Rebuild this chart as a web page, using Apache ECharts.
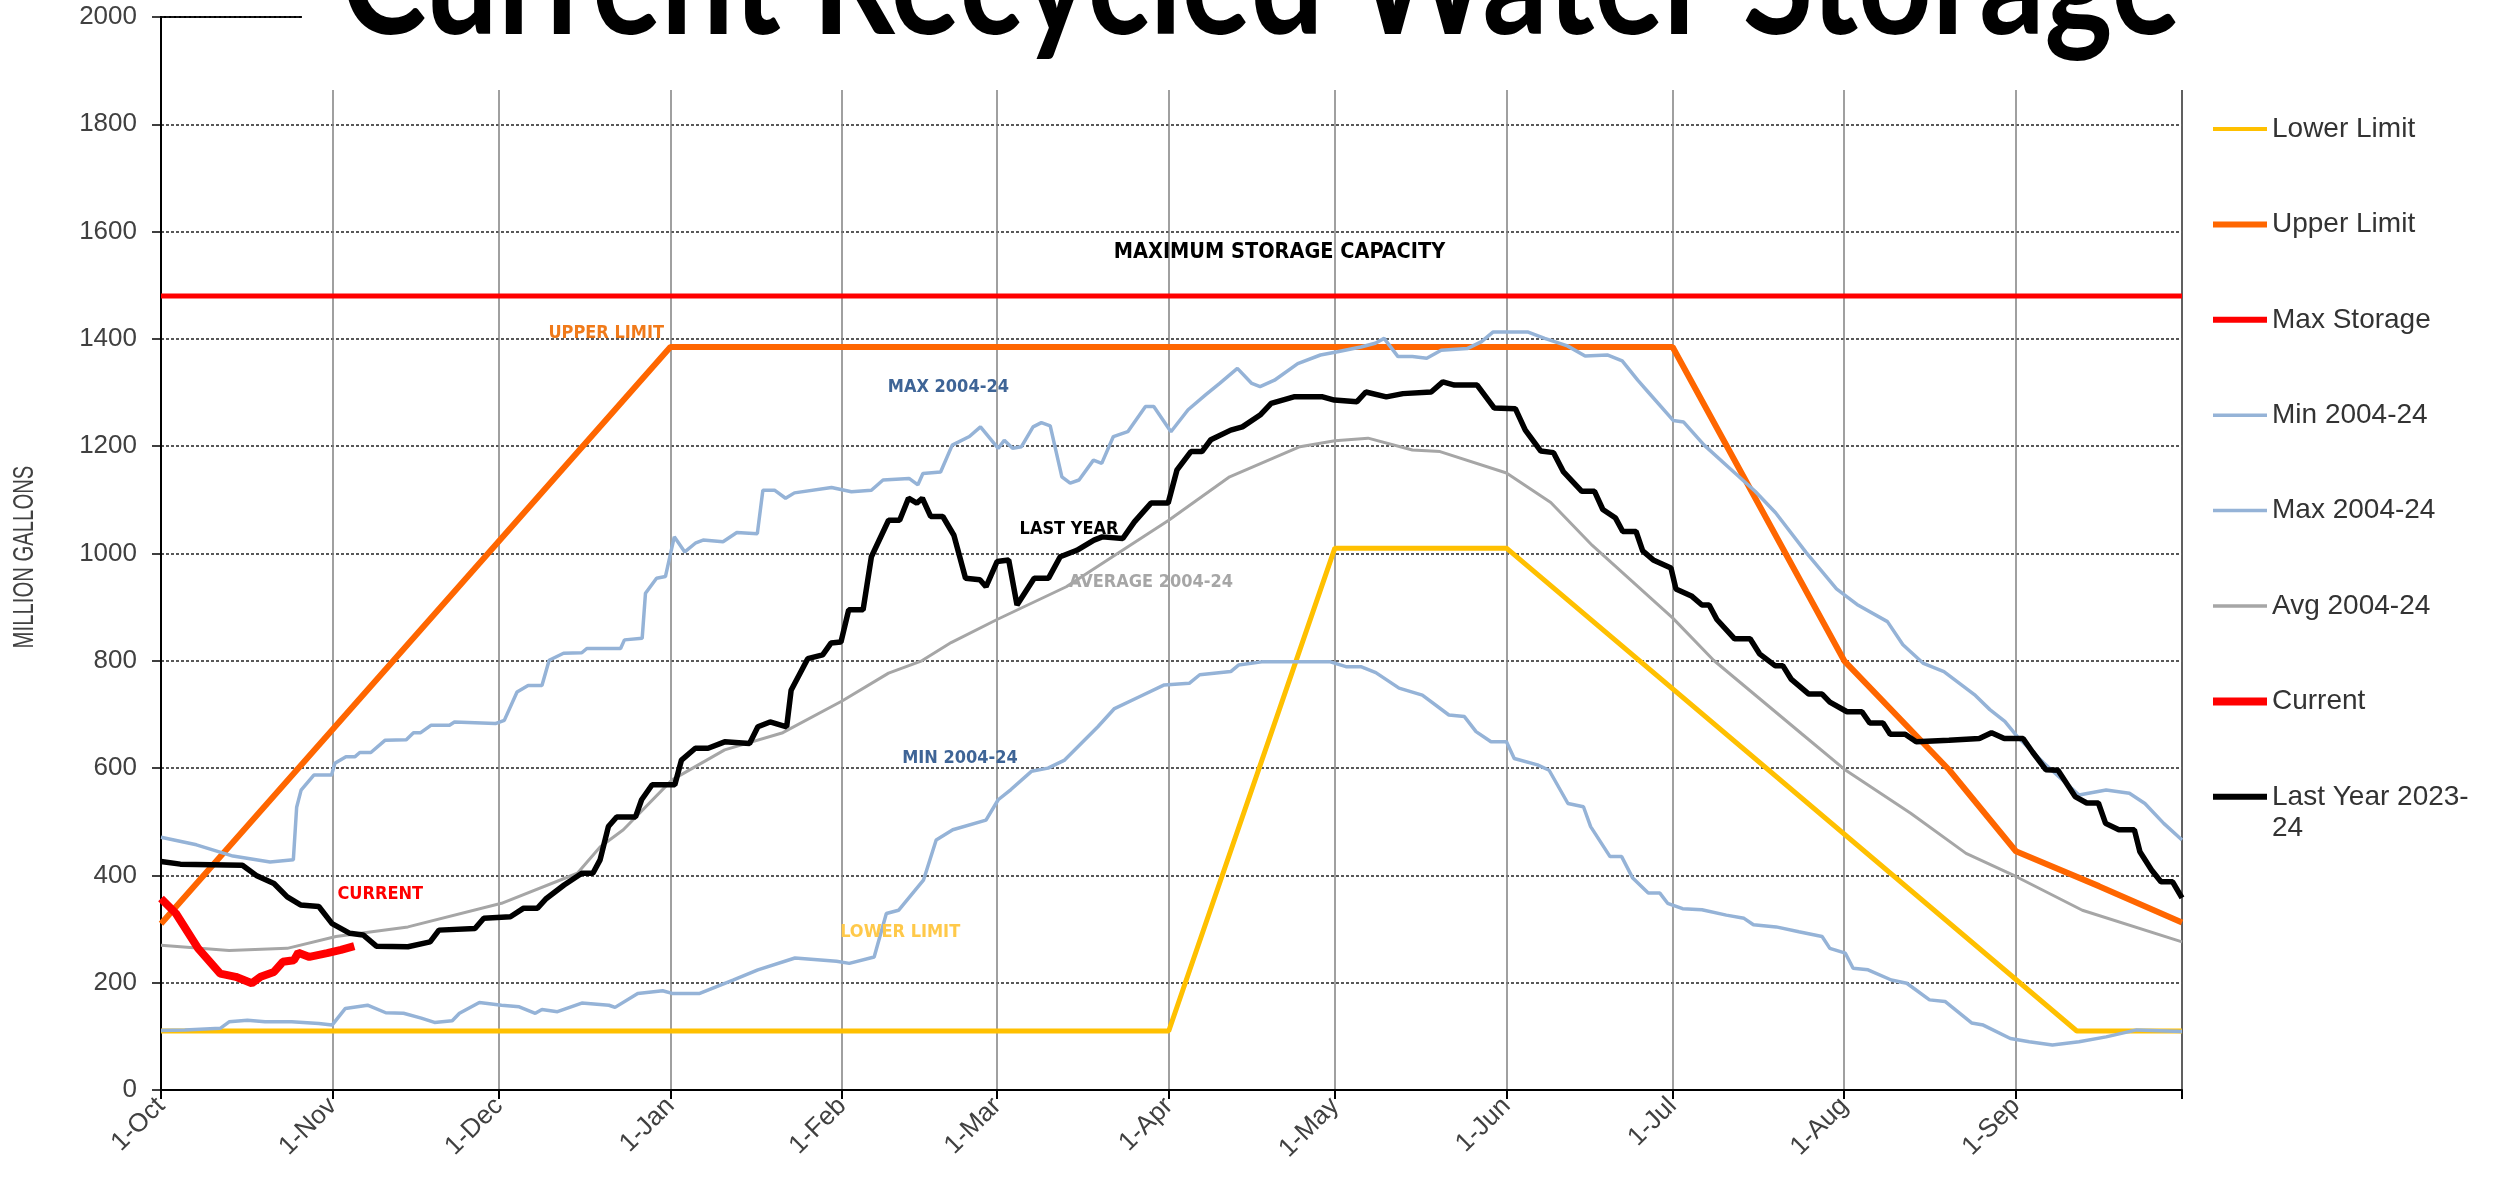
<!DOCTYPE html>
<html lang="en">
<head>
<meta charset="UTF-8">
<title>Current Recycled Water Storage</title>
<style>
    html, body { margin: 0; padding: 0; background: #fff; }
    #main { width: 2496px; height: 1178px; }
</style>
<script src="https://cdn.jsdelivr.net/npm/echarts@6.0.0/dist/echarts.min.js"></script>
</head>
<body>
<div id="main"></div>
<script type="text/javascript">
    // x = days since 1-Oct
    var monthDays = [0, 31, 61, 92, 123, 151, 182, 212, 243, 273, 304, 335];
    var monthLabels = ['1-Oct', '1-Nov', '1-Dec', '1-Jan', '1-Feb', '1-Mar', '1-Apr', '1-May', '1-Jun', '1-Jul', '1-Aug', '1-Sep'];
    var yearEnd = 365;

    var lowerLimit = [[0, 110], [182, 110], [212, 1010], [243, 1010], [346, 110], [365, 110]];
    var upperLimit = [[0, 310], [92, 1385], [273, 1385], [304, 800], [323, 596], [335, 445], [350, 380], [365, 312]];
    var maxStorage = [[0, 1480], [365, 1480]];

    var min0424 = [[0, 111], [4.3, 112], [10.7, 115], [12.3, 127], [15.6, 130], [18.8, 127], [23.6, 127], [28.5, 124], [30.9, 121],
        [33.3, 152], [37.3, 158], [40.6, 144], [43.8, 143], [47, 134], [49.4, 126], [52.6, 129], [53.9, 143], [57.5, 163],
        [61.5, 158], [64.7, 155], [67.6, 143], [68.8, 150], [71.6, 146], [76, 162], [80.9, 158], [82, 154], [86.1, 180],
        [90.6, 185], [92.3, 180], [97.3, 180], [103.3, 205], [107.8, 224], [114.5, 246], [122, 240], [124.3, 236], [128.8, 248],
        [131, 329], [133.2, 335], [137.7, 391], [140, 466], [143, 485], [149, 503], [151.2, 541], [153.5, 560], [157.2, 594],
        [160.2, 600], [163.2, 615], [169.2, 677], [172.2, 711], [176.7, 733], [181.2, 755], [185.7, 758], [187.6, 774],
        [193.2, 780], [194.6, 792], [198.8, 798], [211.2, 798], [214, 789], [216.7, 789], [219.4, 778], [223.6, 749],
        [227.8, 736], [232.6, 699], [235.4, 696], [237.5, 668], [240.2, 649], [243, 649], [244.4, 618], [248.6, 606],
        [250.7, 596], [254.1, 534], [256.9, 528], [258.2, 491], [261.7, 435], [263.8, 435], [265.8, 395], [268.6, 367],
        [270.7, 367], [272.1, 348], [274.8, 338], [278.3, 336], [282.7, 326], [285.9, 320], [287.6, 308], [291.7, 304],
        [295.8, 295], [300, 286], [301.4, 264], [304.2, 255], [305.6, 227], [308.3, 224], [312.5, 205], [315.3, 199],
        [319.4, 168], [322.2, 165], [327, 125], [329.1, 121], [334, 96], [337.4, 90], [341.6, 84], [346.4, 90],
        [351.3, 99], [356.8, 112], [365, 109]];

    var max0424 = [[0, 471], [6.4, 457], [13, 436], [19.7, 425], [23.9, 429], [24.5, 527], [25.3, 559], [27.6, 587], [30.8, 587],
        [31.4, 609], [33.4, 621], [35, 621], [35.9, 629], [37.9, 629], [40.5, 652], [44.3, 653], [45.6, 666], [46.9, 666],
        [48.8, 680], [52.1, 680], [53, 686], [60.4, 683], [62, 689], [64.3, 742], [66.3, 754], [68.8, 754], [70.1, 801],
        [72.7, 814], [76, 815], [76.9, 823], [83, 823], [83.7, 839], [86.9, 842], [87.5, 926], [89.5, 954], [91.1, 957],
        [92.7, 1031], [94.6, 1003], [96.6, 1020], [97.9, 1025], [101.5, 1022], [104, 1039], [107.7, 1037], [108.7, 1118],
        [110.8, 1118], [112.8, 1103], [114.4, 1113], [121.1, 1123], [124.7, 1115], [128.3, 1118], [130.4, 1137],
        [135.1, 1140], [136.7, 1128], [137.6, 1149], [140.8, 1152], [142.9, 1202], [146, 1218], [148, 1236], [151.2, 1196],
        [152.3, 1211], [153.8, 1196], [155.4, 1199], [157.5, 1236], [159, 1244], [160.6, 1238], [162.7, 1143], [164.2, 1131],
        [165.8, 1137], [168.4, 1174], [169.9, 1168], [172, 1218], [174.6, 1227], [177.8, 1274], [179.3, 1274], [182.4, 1227],
        [185.5, 1268], [188.7, 1296], [191.2, 1317], [194.4, 1345], [197, 1317], [198.5, 1311], [201.1, 1323], [205.3, 1354],
        [209.4, 1370], [212.5, 1376], [216.7, 1385], [219.3, 1392], [220.9, 1401], [223.4, 1367], [226, 1367], [228.6, 1364],
        [231.2, 1379], [235.9, 1382], [238.5, 1395], [240.6, 1413], [246.8, 1413], [249.9, 1401], [254, 1387], [257.2, 1368],
        [261.2, 1370], [263.9, 1359], [266.7, 1323], [268.5, 1302], [273.1, 1248], [275, 1245], [278.7, 1202], [283.3, 1159],
        [287.9, 1116], [291.6, 1076], [297.1, 1002], [302.6, 934], [306.3, 905], [311.8, 873], [314.6, 830], [318.3, 795],
        [322, 780], [327.5, 737], [330.3, 709], [333, 687], [335.3, 658], [340, 610], [346.4, 550], [351.3, 559],
        [355.5, 553], [358.3, 534], [361.7, 497], [365, 466]];

    var avg0424 = [[0, 270], [12.3, 260], [22.8, 264], [31.6, 286], [44.6, 304], [61.5, 348], [75.2, 404], [79.3, 453],
        [83.5, 485], [92.3, 578], [101.8, 634], [112.3, 666], [123, 725], [131.4, 777], [137.4, 800], [142.7, 834],
        [151, 877], [163.5, 938], [182, 1062], [193, 1143], [205.7, 1199], [212, 1210], [218, 1215], [226, 1193],
        [231, 1190], [243, 1150], [251, 1095], [258.5, 1015], [273, 880], [280.4, 801], [296.2, 665], [304, 598],
        [316, 516], [326, 441], [335, 398], [347, 335], [365, 276]];

    var current = [[0, 357], [2.7, 329], [6.7, 264], [10.7, 217], [13.5, 211], [16.4, 199], [18, 211], [20.4, 220],
        [22, 239], [24, 242], [24.8, 256], [26.8, 248], [30, 255], [32.5, 261], [34.9, 268]];

    var lastYear = [[0, 426], [3.5, 421], [14.7, 419], [17.2, 400], [20.4, 385], [22.8, 360], [25.2, 345], [28.5, 342],
        [30.9, 310], [34.1, 292], [36.5, 289], [38.9, 268], [44.6, 267], [48.6, 276], [50.2, 298], [56.7, 301], [58.3, 320],
        [63.1, 323], [65.5, 339], [68, 339], [69.6, 357], [72.8, 382], [76, 404], [78, 404], [79.3, 429], [80.8, 491],
        [82.3, 509], [85.7, 509], [86.8, 541], [88.7, 569], [92.8, 569], [94, 615], [96.5, 637], [98.8, 637], [101.8, 649],
        [106.3, 646], [107.8, 677], [110, 686], [113, 677], [113.8, 745], [116.8, 804], [119.5, 811], [121, 833],
        [122.8, 835], [124.2, 895], [126.8, 895], [128.3, 994], [131.4, 1062], [133.4, 1062], [135, 1103], [136.5, 1094],
        [137.5, 1103], [139, 1069], [141.2, 1069], [143.2, 1034], [145.3, 954], [147.9, 951], [149, 938], [151, 985],
        [153.1, 988], [154.6, 904], [157.7, 954], [160.3, 954], [162.4, 994], [165.4, 1006], [168.5, 1025], [170, 1031],
        [173.7, 1028], [175.8, 1059], [178.8, 1094], [181.9, 1094], [183.5, 1156], [186, 1190], [188, 1190], [189.6, 1212],
        [193.2, 1230], [195.3, 1236], [198.5, 1258], [200.5, 1280], [204.6, 1292], [209.8, 1292], [211.9, 1286], [216, 1283],
        [217.6, 1301], [221.3, 1292], [224.3, 1298], [229.4, 1301], [231.5, 1320], [233.6, 1314], [237.7, 1314],
        [240.8, 1271], [244.6, 1270], [246.4, 1230], [249.2, 1191], [251.5, 1188], [253.3, 1152], [256.6, 1116],
        [258.9, 1116], [260.4, 1082], [262.7, 1066], [264, 1041], [266.4, 1041], [267.6, 1005], [269.5, 988], [272.7, 973],
        [273.6, 934], [276.4, 921], [278.3, 904], [279.6, 904], [281, 877], [284.2, 841], [287, 841], [288.7, 813],
        [291.5, 791], [292.9, 791], [294.4, 766], [297.6, 738], [300, 738], [301.4, 723], [304.5, 705], [307.2, 705],
        [308.6, 684], [311, 684], [312.3, 663], [315, 663], [317, 649], [322.9, 652], [328.4, 655], [330.6, 666],
        [332.9, 655], [336.3, 655], [338, 630], [340.4, 597], [342.6, 596], [345.7, 547], [347.8, 535], [349.9, 535],
        [351.2, 497], [353.6, 485], [356.4, 485], [357.4, 444], [359.5, 410], [361.2, 388], [363.3, 388], [365, 358]];

    var titleText = 'Current Recycled Water Storage';
    var tickFont = "'Liberation Sans', Arial, sans-serif";
    var noteFont = "'Liberation Sans Narrow', 'DejaVu Sans Condensed', sans-serif";

    // fit title font to the width it has in the slide
    var ctx = document.createElement('canvas').getContext('2d');
    ctx.font = 'bold 100px Lato';
    var titleSize = 100 * 1840 / ctx.measureText(titleText).width;
    var titleStretch = 1.18;

    function line(name, data, color, width) {
        return {
            name: name, type: 'line', data: data,
            symbol: 'none', showSymbol: false, silent: true,
            lineStyle: { color: color, width: width },
            itemStyle: { color: color }
        };
    }

    // legend swatch: a plain bar of the series' line thickness
    function swatch(name, thick) {
        return { name: name, icon: 'path://M0,0H54V' + thick + 'H0Z' };
    }

    function note(text, at, color, size) {
        return {
            coord: at,
            label: { show: true, formatter: text, color: color, fontSize: size || 18,
                fontWeight: 'bold', fontFamily: noteFont }
        };
    }

    var storage = line('Max Storage', maxStorage, '#ff0000', 5);
    storage.markPoint = {
        symbol: 'circle', symbolSize: 0, silent: true,
        data: [
            note('MAXIMUM STORAGE CAPACITY', [202, 1562], '#000', 21.5),
            note('UPPER LIMIT', [80.4, 1411], '#f07a1a'),
            note('MAX 2004-24', [142.2, 1309], '#3e6496'),
            note('LAST YEAR', [164, 1045], '#000'),
            note('AVERAGE 2004-24', [178.8, 946], '#a6a6a6'),
            note('MIN 2004-24', [144.3, 619], '#3e6496'),
            note('CURRENT', [39.6, 365], '#ff0000'),
            note('LOWER LIMIT', [133.5, 293], '#ffc94a')
        ]
    };

    var myChart = echarts.init(document.getElementById('main'));
    var option = {
        animation: false,
        backgroundColor: '#fff',
        grid: { left: 161, right: 314, top: 17, bottom: 88, show: true, borderColor: '#000', borderWidth: 2 },
        legend: {
            orient: 'vertical', left: 2208, top: 110,
            itemWidth: 54, itemHeight: 28, itemGap: 67.4,
            selectedMode: false,
            textStyle: { fontSize: 28, color: '#333', fontFamily: tickFont },
            data: [
                swatch('Lower Limit', 4), swatch('Upper Limit', 6), swatch('Max Storage', 6),
                swatch('Min 2004-24', 3.5), swatch('Max 2004-24', 3.5), swatch('Avg 2004-24', 3.5),
                swatch('Current', 8), swatch('Last Year 2023-24', 6)
            ],
            formatter: function (name) {
                return name === 'Last Year 2023-24' ? 'Last Year 2023-' : name;
            }
        },
        xAxis: {
            type: 'value', min: 0, max: yearEnd,
            axisLine: { show: true, lineStyle: { color: '#000', width: 2 } },
            axisTick: { show: true, length: 9, lineStyle: { color: '#000', width: 2 }, customValues: monthDays.concat([yearEnd]) },
            axisLabel: {
                customValues: monthDays, rotate: 45, margin: 12,
                fontSize: 26, color: '#404040', fontFamily: tickFont,
                formatter: function (v) { return monthLabels[monthDays.indexOf(v)] || ''; }
            },
            splitLine: { show: true, lineStyle: { color: '#808080', width: 1.5 } }
        },
        yAxis: {
            type: 'value', min: 0, max: 2000, interval: 200,
            axisLine: { show: true, lineStyle: { color: '#000', width: 2 } },
            axisTick: { show: true, length: 9, lineStyle: { color: '#000', width: 1.5 } },
            axisLabel: { margin: 24, fontSize: 26, color: '#404040', fontFamily: tickFont,
                formatter: function (v) { return String(v); } },
            splitLine: { show: true, lineStyle: { color: '#222', width: 1.5, type: [3, 2] } }
        },
        series: [
            line('Lower Limit', lowerLimit, '#ffc000', 5),
            line('Upper Limit', upperLimit, '#ff6600', 6),
            storage,
            line('Min 2004-24', min0424, '#95b3d7', 3.5),
            line('Max 2004-24', max0424, '#95b3d7', 3.5),
            line('Avg 2004-24', avg0424, '#a6a6a6', 3),
            line('Current', current, '#ff0000', 8),
            line('Last Year 2023-24', lastYear, '#000000', 5.5)
        ],
        graphic: [
            // slide title box sits over the top of the chart
            { type: 'rect', z: 100, shape: { x: 302, y: 0, width: 2000, height: 90 }, style: { fill: '#fff' } },
            { type: 'text', z: 101, x: 341, y: 44 - 0.387 * titleSize * titleStretch, scaleY: titleStretch,
              style: { text: titleText, fill: '#000', font: 'bold ' + titleSize.toFixed(1) + 'px Lato', verticalAlign: 'middle' } },
            { type: 'text', z: 101, x: 2272, y: 828,
              style: { text: '24', fill: '#333', font: '28px ' + tickFont, verticalAlign: 'middle' } },
            // y axis title, narrow like the original
            { type: 'text', z: 101, x: 25, y: 557, rotation: Math.PI / 2, scaleX: 0.7,
              style: { text: 'MILLION GALLONS', fill: '#404040', font: '29px ' + tickFont, align: 'center', verticalAlign: 'middle' } }
        ]
    };
    myChart.setOption(option);
</script>
</body>
</html>
